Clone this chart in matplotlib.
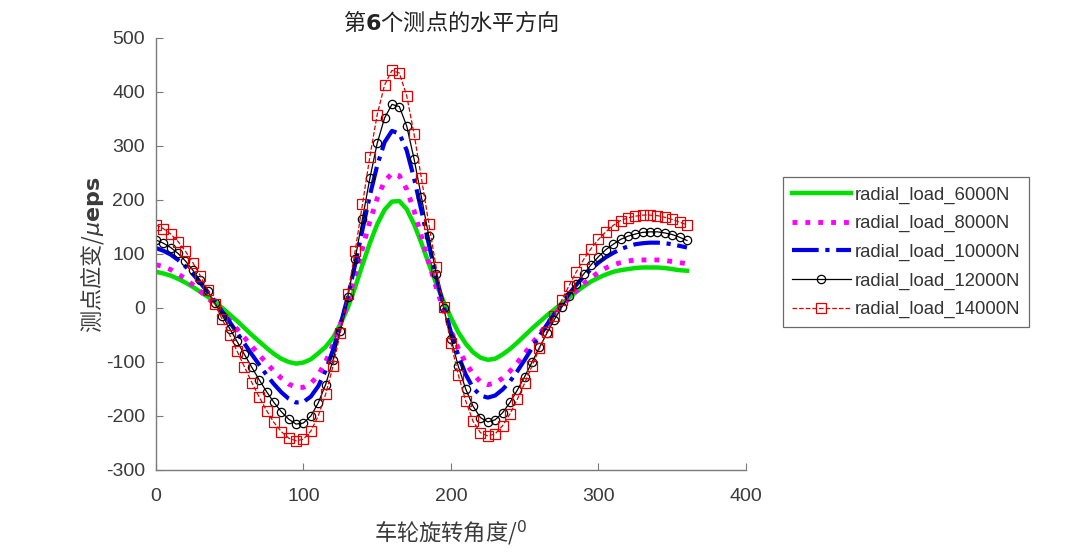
import numpy as np
import matplotlib
matplotlib.use("Agg")
import matplotlib.pyplot as plt

plt.rcParams["axes.unicode_minus"] = False

# wheel rotation angle (deg)
angle = np.arange(0, 361, 5)

# strain at measuring point 6, horizontal direction (micro-strain)
load_6000 = [67, 64, 60, 54, 47, 39, 30, 21, 11, 0, -12, -24, -37, -50, -62, -74, -85, -94, -100,
             -103, -101, -95, -84, -72, -55, -30, 0, 38, 80, 120, 155, 182, 197, 198, 183, 155,
             120, 82, 45, 12, -18, -45, -66, -82, -92, -96, -94, -86, -76, -64, -51, -38, -26, -14,
             -3, 8, 19, 30, 40, 49, 56, 62, 67, 70, 72, 74, 75, 75, 75, 74, 72, 70, 69]
load_8000 = [80, 77, 71, 63, 54, 43, 31, 19, 6, -8, -23, -39, -55, -71, -87, -102, -117, -130, -141,
             -147, -147, -140, -124, -100, -68, -30, 12, 60, 110, 160, 203, 235, 249, 245, 220, 180,
             132, 84, 38, -4, -42, -75, -102, -122, -137, -142, -139, -130, -117, -101, -84, -66,
             -48, -30, -13, 3, 18, 32, 45, 56, 66, 74, 80, 84, 87, 89, 89, 89, 89, 88, 86, 84, 82]
load_10000 = [111, 106, 99, 89, 77, 63, 47, 30, 12, -7, -26, -46, -66, -86, -105, -124, -141, -156,
              -168, -175, -174, -164, -145, -116, -78, -32, 20, 80, 145, 208, 264, 307, 328, 323,
              292, 240, 180, 118, 58, 4, -45, -88, -123, -148, -162, -166, -162, -151, -136, -117,
              -96, -74, -52, -31, -11, 8, 26, 43, 58, 72, 84, 94, 102, 109, 114, 118, 120, 121, 121,
              120, 118, 115, 112]
load_12000 = [126, 120, 112, 101, 87, 70, 51, 31, 9, -14, -38, -62, -86, -110, -133, -155, -175, -192,
              -206, -215, -213, -200, -176, -142, -97, -42, 20, 90, 165, 240, 305, 352, 377, 373,
              337, 276, 205, 133, 63, 0, -57, -108, -150, -182, -203, -211, -207, -194, -175, -152,
              -127, -100, -73, -47, -22, 1, 23, 44, 63, 80, 95, 108, 118, 127, 133, 137, 140, 141,
              141, 139, 136, 131, 125]
load_14000 = [154, 147, 137, 123, 105, 84, 60, 34, 7, -21, -50, -80, -109, -138, -165, -190, -212, -229,
              -241, -246, -243, -228, -200, -160, -108, -46, 25, 105, 192, 280, 358, 413, 440, 435,
              393, 322, 240, 156, 75, 2, -65, -124, -172, -210, -231, -237, -233, -218, -196, -169,
              -139, -107, -75, -44, -14, 14, 41, 67, 90, 110, 127, 141, 153, 162, 167, 170, 172, 172,
              171, 168, 164, 159, 154]

labels = ["radial_load_6000N", "radial_load_8000N", "radial_load_10000N",
          "radial_load_12000N", "radial_load_14000N"]

cjk = "Noto Sans CJK SC"
txt_color = "#3a3a3a"

fig = plt.figure(figsize=(10.8, 5.57), dpi=100)
ax = fig.add_axes([0.1444, 0.1562, 0.5463, 0.7756])

ax.plot(angle, load_6000, color="#00e000", lw=3.2, ls="-", label=labels[0])
ax.plot(angle, load_8000, color="#ff00ff", lw=3.5, ls=":", label=labels[1])
ax.plot(angle, load_10000, color="#0000e6", lw=3.0, ls="-.", label=labels[2])
ax.plot(angle, load_12000, color="black", lw=0.9, ls="-", marker="o", ms=6,
        mfc="none", mew=0.9, label=labels[3])
ax.plot(angle, load_14000, color="#e00000", lw=0.9, ls="--", marker="s", ms=7,
        mfc="none", mew=0.9, label=labels[4])

ax.set_xlim(0, 400)
ax.set_ylim(-300, 500)
ax.set_xticks([0, 100, 200, 300, 400])
ax.set_yticks(np.arange(-300, 501, 100))

for side in ["top", "right"]:
    ax.spines[side].set_visible(False)
for side in ["left", "bottom"]:
    ax.spines[side].set_color("#7a7a7a")
    ax.spines[side].set_linewidth(1.0)
ax.tick_params(direction="in", length=5, width=0.8, color="#7a7a7a",
               labelsize=14, labelcolor=txt_color, pad=8)
ax.tick_params(axis="x", pad=13)
for t in ax.get_xticklabels() + ax.get_yticklabels():
    t.set_fontfamily("Liberation Sans")

ax.set_title(r"第$\mathbf{6}$个测点的水平方向", family=cjk, fontsize=16,
             color="#222222", pad=6)
ax.set_xlabel(r"车轮旋转角度/$^0$", family=cjk, fontsize=16, color=txt_color, labelpad=10)
ax.set_ylabel(r"测点应变/$\mu\mathbf{eps}$", family=cjk, fontsize=16, color=txt_color, labelpad=0)

leg = ax.legend(loc="center left", bbox_to_anchor=(0.716, 0.547),
                bbox_transform=fig.transFigure, fancybox=False, framealpha=1,
                edgecolor="#6a6a6a", handlelength=3.2, handletextpad=0.2,
                labelspacing=0.62, borderpad=0.5, prop={"family": "Liberation Sans", "size": 13.3})
leg.get_frame().set_linewidth(0.9)
for t in leg.get_texts():
    t.set_color("#333333")

fig.savefig("out.png", dpi=100)
